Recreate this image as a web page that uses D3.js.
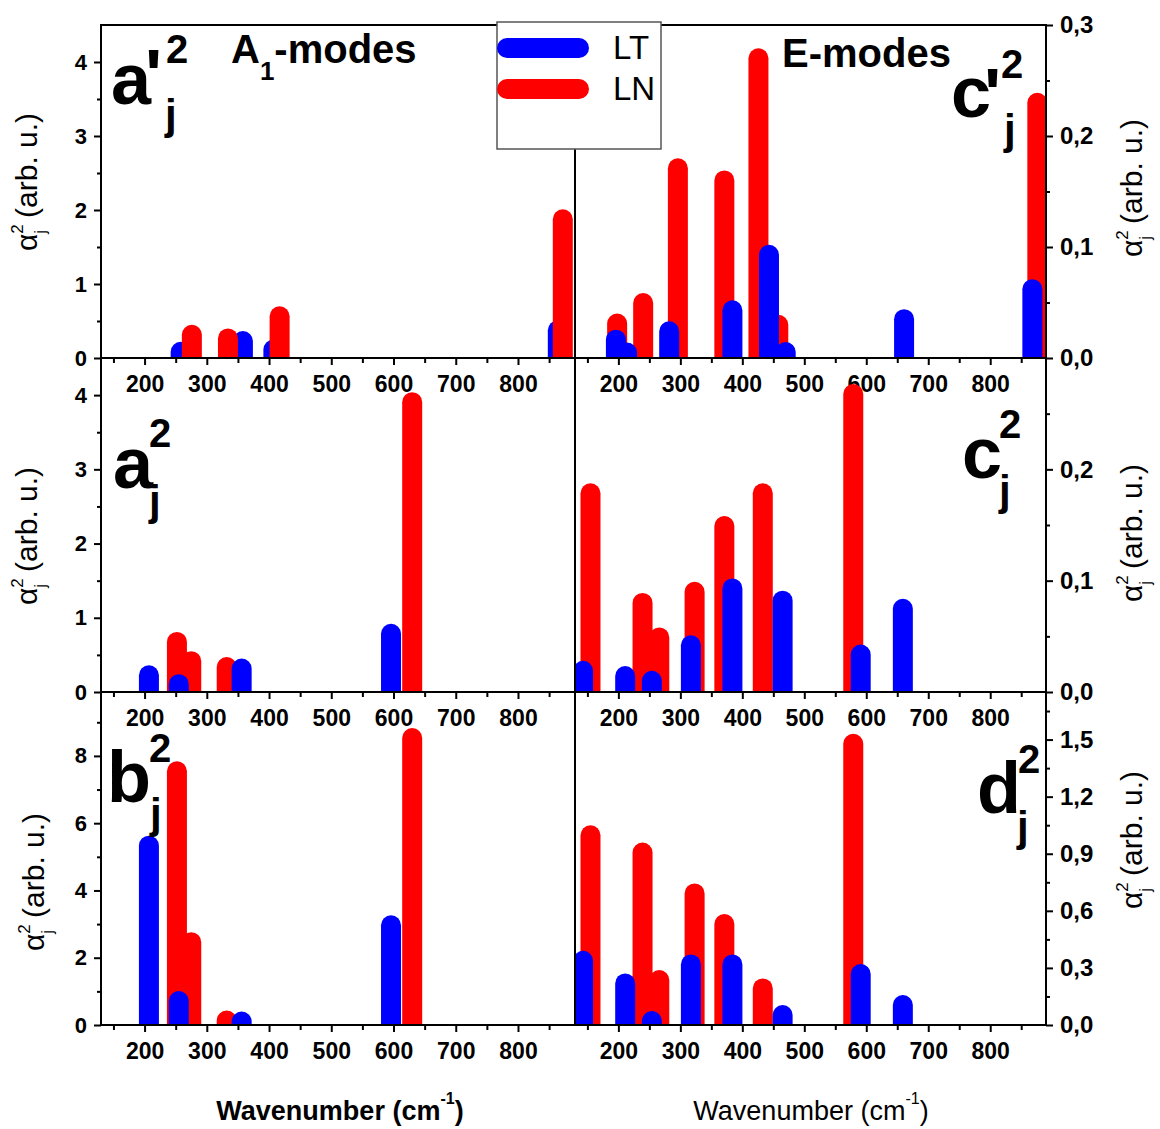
<!DOCTYPE html>
<html>
<head>
<meta charset="utf-8">
<script src="https://cdn.jsdelivr.net/npm/d3@7"></script>
<style>
  body { margin: 0; background: #fff; }
  svg { display: block; }
</style>
</head>
<body>
<svg id="chart" width="1160" height="1129"></svg>
<script>
// ---------------- DATA ----------------
const xDomain = [130, 890];
const xTicksMajor = [200, 300, 400, 500, 600, 700, 800];
const xTicksMinor = [150, 250, 350, 450, 550, 650, 750, 850];

// A1-modes : a'_j^2 (top left)   [wavenumber, value]
const aPrimeLT = [[258, 0.22], [358, 0.365], [407, 0.25], [864, 0.51]];
const aPrimeLN = [[276, 0.45], [334, 0.40], [417, 0.70], [872, 2.01]];
// a_j^2 (middle left)
const aLT = [[207, 0.36], [255, 0.24], [356, 0.45], [596, 0.92]];
const aLN = [[252, 0.81], [275, 0.55], [332, 0.47], [630, 4.04]];
// b_j^2 (bottom left)
const bLT = [[207, 5.63], [255, 1.01], [356, 0.40], [596, 3.26]];
const bLN = [[252, 7.84], [275, 2.76], [332, 0.43], [630, 8.83]];

// E-modes : c'_j^2 (top right)
const cPrimeLT = [[196, 0.0255], [214, 0.014], [282, 0.033], [384, 0.052], [443, 0.102], [470, 0.0144], [661, 0.044], [868, 0.071]];
const cPrimeLN = [[198, 0.040], [240, 0.0586], [296, 0.180], [371, 0.169], [426, 0.279], [458, 0.039], [876, 0.239]];
// c_j^2 (middle right)
const cLT = [[143, 0.028], [211, 0.0234], [254, 0.019], [317, 0.051], [384, 0.102], [465, 0.091], [591, 0.0427], [659, 0.0837]];
const cLN = [[155, 0.1875], [239, 0.089], [266, 0.058], [323, 0.099], [371, 0.158], [433, 0.1875], [579, 0.2766]];
// d_j^2 (bottom right)
const dLT = [[143, 0.39], [211, 0.271], [254, 0.0735], [317, 0.371], [384, 0.371], [465, 0.105], [591, 0.32], [659, 0.1575]];
const dLN = [[155, 1.05], [239, 0.959], [266, 0.289], [323, 0.744], [371, 0.583], [433, 0.245], [579, 1.53]];

// y tick values
const yTicksA = [0, 1, 2, 3, 4];
const yMinorA = [0.5, 1.5, 2.5, 3.5];
const yTicksB = [0, 2, 4, 6, 8];
const yMinorB = [1, 3, 5, 7, 9];
const yTicksCTop = [0, 0.1, 0.2, 0.3];
const yTicksC = [0, 0.1, 0.2];
const yMinorC = [0.05, 0.15, 0.25];
const yTicksD = [0, 0.3, 0.6, 0.9, 1.2, 1.5];
const yMinorD = [0.15, 0.45, 0.75, 1.05, 1.35, 1.65];

const seriesNames = ["LT", "LN"];
const seriesColors = ["#0000ff", "#ff0000"];

// ---------------- LAYOUT ----------------
const FONT = '"Liberation Sans", Arial, Helvetica, sans-serif';
const svg = d3.select("#chart");
const colX = [[101, 574], [575, 1046]];
const rowY = [[25, 358], [358, 692], [692, 1025]];
const xScales = colX.map(r => d3.scaleLinear().domain(xDomain).range(r));
const BAR_W = 20;

const panels = [
  { col: 0, row: 0, LT: aPrimeLT, LN: aPrimeLN, yMax: 4.5, major: yTicksA, minor: yMinorA, lnOnTop: true },
  { col: 1, row: 0, LT: cPrimeLT, LN: cPrimeLN, yMax: 0.3, major: yTicksCTop, minor: yMinorC },
  { col: 0, row: 1, LT: aLT, LN: aLN, yMax: 4.5, major: yTicksA, minor: yMinorA },
  { col: 1, row: 1, LT: cLT, LN: cLN, yMax: 0.3, major: yTicksC, minor: yMinorC },
  { col: 0, row: 2, LT: bLT, LN: bLN, yMax: 9.9, major: yTicksB, minor: yMinorB },
  { col: 1, row: 2, LT: dLT, LN: dLN, yMax: 1.75, major: yTicksD, minor: yMinorD }
];

function barPath(cx, yTop, yBase, w) {
  const r = w / 2;
  return `M${cx - r},${yBase + 2}L${cx - r},${yTop + r}A${r},${r} 0 0 1 ${cx + r},${yTop + r}L${cx + r},${yBase + 2}Z`;
}

const defs = svg.append("defs");
const commaFmt = v => d3.format(".1f")(v).replace(".", ",");

panels.forEach((p, i) => {
  const x = xScales[p.col];
  const [y0, y1] = rowY[p.row];
  const y = d3.scaleLinear().domain([0, p.yMax]).range([y1, y0]);
  const [xa, xb] = colX[p.col];

  defs.append("clipPath").attr("id", "clip" + i)
    .append("rect").attr("x", xa).attr("y", y0).attr("width", xb - xa).attr("height", y1 - y0);

  const g = svg.append("g").attr("clip-path", `url(#clip${i})`);
  const order = p.lnOnTop ? [0, 1] : [1, 0];
  order.forEach(si => {
    const data = si === 0 ? p.LT : p.LN;
    g.append("g").selectAll("path").data(data).join("path")
      .attr("d", d => barPath(x(d[0]), y(d[1]), y1, BAR_W))
      .attr("fill", seriesColors[si]);
  });

  // y axis
  const isLeft = p.col === 0;
  const axMaj = (isLeft ? d3.axisLeft(y) : d3.axisRight(y))
    .tickValues(p.major).tickSize(7).tickPadding(7)
    .tickFormat(isLeft ? d3.format("d") : commaFmt);
  const axMin = (isLeft ? d3.axisLeft(y) : d3.axisRight(y))
    .tickValues(p.minor).tickSize(4).tickFormat("");
  const ax = isLeft ? colX[0][0] : colX[1][1];
  [axMaj, axMin].forEach(a => {
    const ga = svg.append("g").attr("transform", `translate(${ax},0)`).call(a);
    ga.select(".domain").remove();
    ga.selectAll("line").attr("stroke", "#000").attr("stroke-width", 2);
    ga.selectAll("text").attr("fill", "#000")
      .style("font-family", FONT).style("font-weight", "bold")
      .style("font-size", isLeft ? "22px" : "24px");
  });

  // x axis at bottom of this panel
  const xMaj = d3.axisBottom(x).tickValues(xTicksMajor).tickSize(7).tickPadding(10.5).tickSizeOuter(0);
  const xMin = d3.axisBottom(x).tickValues(xTicksMinor).tickSize(5).tickFormat("").tickSizeOuter(0);
  [xMaj, xMin].forEach(a => {
    const ga = svg.append("g").attr("transform", `translate(0,${y1})`).call(a);
    ga.select(".domain").remove();
    ga.selectAll("line").attr("stroke", "#000").attr("stroke-width", 2);
    ga.selectAll("text").attr("fill", "#000")
      .style("font-family", FONT).style("font-weight", "bold").style("font-size", "23px");
  });
});

// frame lines
const frame = svg.append("g").attr("stroke", "#000").attr("stroke-width", 2);
frame.append("line").attr("x1", 101).attr("x2", 1046).attr("y1", 25).attr("y2", 25);
rowY.forEach(r => frame.append("line").attr("x1", 100).attr("x2", 1047).attr("y1", r[1]).attr("y2", r[1]));
frame.append("line").attr("x1", 101).attr("x2", 101).attr("y1", 24).attr("y2", 1026);
frame.append("line").attr("x1", 1046).attr("x2", 1046).attr("y1", 24).attr("y2", 1026);
frame.append("line").attr("x1", 575).attr("x2", 575).attr("y1", 25).attr("y2", 1025);

// ---------------- TEXT ----------------
function txt(x, y, s, size, weight, anchor) {
  return svg.append("text").attr("x", x).attr("y", y).text(s)
    .style("font-family", FONT).style("font-size", size + "px")
    .style("font-weight", weight || "normal")
    .attr("text-anchor", anchor || "start").attr("fill", "#000");
}

// mode titles
const tA = svg.append("text").attr("x", 231).attr("y", 63)
  .style("font-family", FONT).style("font-size", "40px").style("font-weight", "bold");
tA.append("tspan").text("A");
tA.append("tspan").attr("dy", 17).style("font-size", "26px").text("1");
tA.append("tspan").attr("dy", -17).text("-modes");
txt(782, 67, "E-modes", 40, "bold");

// panel labels
const panelLabels = [
  { l: "a", prime: true, x: 111, y: 104, px: 145, py: 100, sx: 166, sy: 63, jx: 165, jy: 129 },
  { l: "c", prime: true, x: 951, y: 117, px: 984, py: 119, sx: 1001, sy: 78, jx: 1004, jy: 144 },
  { l: "a", prime: false, x: 113, y: 488, sx: 149, sy: 447, jx: 149, jy: 515 },
  { l: "c", prime: false, x: 962, y: 478, sx: 999, sy: 438, jx: 999, jy: 505 },
  { l: "b", prime: false, x: 107, y: 802, sx: 149, sy: 762, jx: 150, jy: 828 },
  { l: "d", prime: false, x: 977, y: 813, sx: 1018, sy: 773, jx: 1017, jy: 841 }
];
panelLabels.forEach(d => {
  txt(d.x, d.y, d.l, 72, "bold");
  if (d.prime) txt(d.px, d.py, "'", 72, "bold");
  txt(d.sx, d.sy, "2", 40, "bold");
  txt(d.jx, d.jy, "j", 42, "bold");
});

// y axis titles
function yTitle(cx, cy) {
  const t = svg.append("text").attr("transform", `translate(${cx},${cy}) rotate(-90)`)
    .attr("text-anchor", "middle").style("font-family", FONT).style("font-size", "30px");
  t.append("tspan").text("α");
  t.append("tspan").attr("dy", -14).style("font-size", "17px").text("2");
  t.append("tspan").attr("dx", -9.5).attr("dy", 23).style("font-size", "17px").text("j");
  t.append("tspan").attr("dx", 12).attr("dy", -9).text("(arb. u.)");
}
[[37, 182], [37, 536], [44, 882], [1142, 188], [1142, 533], [1142, 840]].forEach(d => yTitle(d[0], d[1]));

// x axis titles
function xTitle(cx, weight) {
  const t = svg.append("text").attr("x", cx).attr("y", 1120).attr("text-anchor", "middle")
    .style("font-family", FONT).style("font-size", "27px").style("font-weight", weight);
  t.append("tspan").text("Wavenumber (cm");
  t.append("tspan").attr("dy", -16).style("font-size", "16px").text("-1");
  t.append("tspan").attr("dy", 16).text(")");
}
xTitle(340, "bold");
xTitle(811, "normal");

// ---------------- LEGEND ----------------
const lg = svg.append("g");
lg.append("rect").attr("x", 497).attr("y", 22).attr("width", 164).attr("height", 127)
  .attr("fill", "#fff").attr("stroke", "#555").attr("stroke-width", 1.5);
seriesNames.forEach((n, i) => {
  const yy = 48 + i * 41;
  lg.append("line").attr("x1", 507).attr("x2", 579).attr("y1", yy).attr("y2", yy)
    .attr("stroke", seriesColors[i]).attr("stroke-width", 20).attr("stroke-linecap", "round");
  lg.append("text").attr("x", 613).attr("y", yy + 11).text(n)
    .style("font-family", FONT).style("font-size", "33px").attr("fill", "#000");
});
</script>
</body>
</html>
